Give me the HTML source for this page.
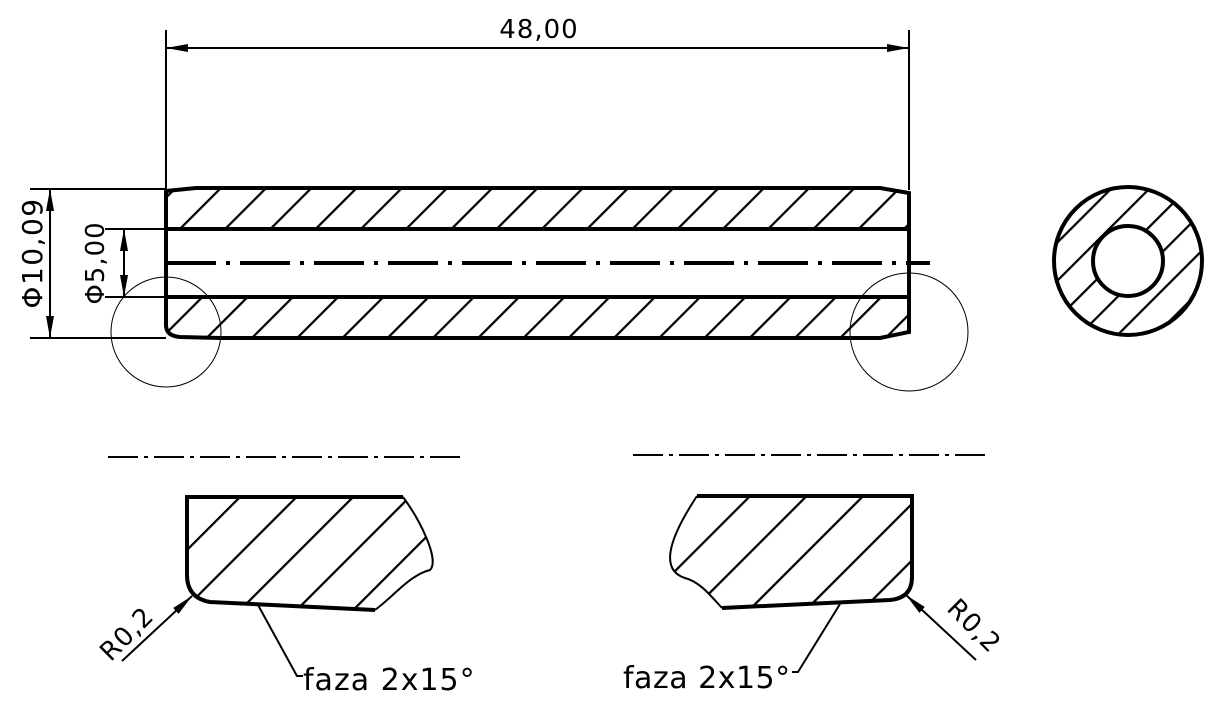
<!DOCTYPE html>
<html><head><style>html,body{margin:0;padding:0;background:#fff}svg{display:block}text{font-family:"DejaVu Sans","Liberation Sans",sans-serif;fill:#000}</style></head>
<body>
<svg width="1220" height="706" viewBox="0 0 1220 706" xmlns="http://www.w3.org/2000/svg">
<defs>
<pattern id="h1" patternUnits="userSpaceOnUse" width="32" height="32" patternTransform="rotate(45)">
<line x1="1" y1="0" x2="1" y2="32" stroke="#000" stroke-width="2.5"/></pattern>
<pattern id="h2" patternUnits="userSpaceOnUse" width="40" height="40" patternTransform="rotate(45)">
<line x1="1" y1="0" x2="1" y2="40" stroke="#000" stroke-width="2.5"/></pattern>
<pattern id="h3" patternUnits="userSpaceOnUse" width="27" height="27" patternTransform="rotate(45)">
<line x1="1" y1="0" x2="1" y2="27" stroke="#000" stroke-width="2.5"/></pattern>
<marker id="ar" markerWidth="22" markerHeight="10" refX="22" refY="5" orient="auto-start-reverse" markerUnits="userSpaceOnUse">
<path d="M0,1 L22,5 L0,9 Z" fill="#000"/></marker>
</defs>
<g stroke="#000" fill="none">
<line x1="166" y1="30" x2="166" y2="190" stroke-width="2"/>
<line x1="909" y1="30" x2="909" y2="190" stroke-width="2"/>
<line x1="166" y1="48" x2="909" y2="48" stroke-width="2" marker-end="url(#ar)" marker-start="url(#ar)"/>
<path d="M166,191 L196,188 L880,188 L909,193 L909,229 L166,229 Z" fill="url(#h1)" stroke="none"/>
<path d="M166,297 L909,297 L909,332 L880,338 L220,338 L180,337 Q166,336 166,325 Z" fill="url(#h1)" stroke="none"/>
<path d="M166,191 L196,188 L880,188 L909,193 L909,332 L880,338 L220,338 L180,337 Q166,336 166,325 Z" stroke-width="4"/>
<line x1="166" y1="229" x2="909" y2="229" stroke-width="4"/>
<line x1="166" y1="297" x2="909" y2="297" stroke-width="4"/>
<line x1="166" y1="263" x2="930" y2="263" stroke-width="4" stroke-dasharray="50,10,4,10"/>
<line x1="30" y1="189" x2="166" y2="189" stroke-width="2"/>
<line x1="30" y1="338" x2="166" y2="338" stroke-width="2"/>
<line x1="50" y1="189" x2="50" y2="338" stroke-width="2" marker-end="url(#ar)" marker-start="url(#ar)"/>
<line x1="105" y1="229" x2="166" y2="229" stroke-width="2"/>
<line x1="105" y1="297" x2="166" y2="297" stroke-width="2"/>
<line x1="124" y1="229" x2="124" y2="297" stroke-width="2" marker-end="url(#ar)" marker-start="url(#ar)"/>
<circle cx="166" cy="332" r="55" stroke-width="1"/>
<circle cx="909" cy="332" r="59" stroke-width="1"/>
<path d="M1128,186 A75,75 0 1,0 1128.01,186 Z M1128,226 A35,35 0 1,1 1127.99,226 Z" fill="url(#h3)" fill-rule="evenodd" stroke="none"/>
<circle cx="1128" cy="261" r="74" stroke-width="4"/>
<circle cx="1128" cy="261" r="35" stroke-width="4"/>
<line x1="108" y1="457" x2="465" y2="457" stroke-width="2" stroke-dasharray="30,6,4,6"/>
<path d="M187,497 L403,497 C420,520 440,560 430,570 C410,575 395,595 375,610 L210,602 Q187,598 187,575 Z" fill="url(#h2)" stroke="none"/>
<path d="M403,497 L187,497 L187,575 Q187,598 210,602 L375,610" stroke-width="4"/>
<path d="M403,497 C420,520 440,560 430,570 C410,575 395,595 375,610" stroke-width="2"/>
<line x1="122" y1="661" x2="192" y2="596" stroke-width="2" marker-end="url(#ar)"/>
<polyline points="258,605 297,676 303,676" stroke-width="2"/>
<line x1="633" y1="455" x2="990" y2="455" stroke-width="2" stroke-dasharray="30,6,4,6"/>
<path d="M697,496 L912,496 L912,577 Q912,598 890,600 L722,608 C710,595 700,582 685,578 C660,570 668,540 697,496 Z" fill="url(#h2)" stroke="none"/>
<path d="M697,496 L912,496 L912,577 Q912,598 890,600 L722,608" stroke-width="4"/>
<path d="M722,608 C710,595 700,582 685,578 C660,570 668,540 697,496" stroke-width="2"/>
<line x1="976" y1="660" x2="906" y2="595" stroke-width="2" marker-end="url(#ar)"/>
<polyline points="840,604 798,672 792,672" stroke-width="2"/>
</g>
<text x="539" y="38" font-size="26" text-anchor="middle" letter-spacing="1">48,00</text>
<text transform="translate(42,253) rotate(-90)" font-size="28" text-anchor="middle" letter-spacing="1.5">Φ10,09</text>
<text transform="translate(104,263) rotate(-90)" font-size="26" text-anchor="middle" letter-spacing="1">Φ5,00</text>
<text transform="translate(133,640) rotate(-45)" font-size="26" text-anchor="middle" letter-spacing="1">R0,2</text>
<text transform="translate(968,632) rotate(45)" font-size="26" text-anchor="middle" letter-spacing="1">R0,2</text>
<text x="303" y="690" font-size="30" letter-spacing="1">faza 2x15°</text>
<text x="623" y="688" font-size="30" letter-spacing="0.5">faza 2x15°</text>
</svg>
</body></html>
